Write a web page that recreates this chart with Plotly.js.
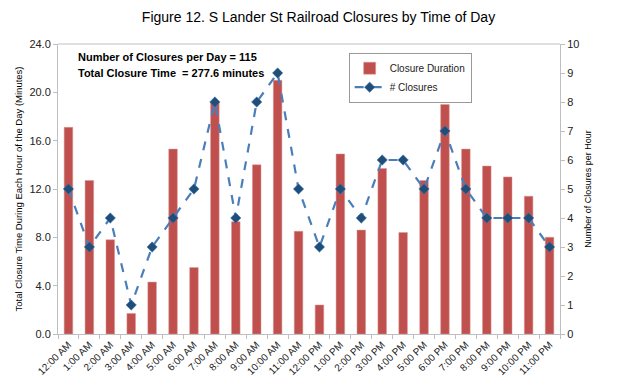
<!DOCTYPE html>
<html>
<head>
<meta charset="utf-8">
<script src="https://cdn.plot.ly/plotly-3.0.1.min.js"></script>
<style>html,body{margin:0;padding:0;background:#fff;}#chart{width:637px;height:378px;}</style>
</head>
<body>
<div id="chart"></div>
<script>
const hours = ["12:00 AM","1:00 AM","2:00 AM","3:00 AM","4:00 AM","5:00 AM","6:00 AM","7:00 AM","8:00 AM","9:00 AM","10:00 AM","11:00 AM","12:00 PM","1:00 PM","2:00 PM","3:00 PM","4:00 PM","5:00 PM","6:00 PM","7:00 PM","8:00 PM","9:00 PM","10:00 PM","11:00 PM"];
const closureDuration = [17.1,12.7,7.8,1.7,4.3,15.3,5.5,19.2,9.3,14.0,21.0,8.5,2.4,14.9,8.6,13.7,8.4,12.7,19.0,15.3,13.9,13.0,11.4,8.0];
const closureCount = [5,3,4,1,3,4,5,8,4,8,9,5,3,5,4,6,6,5,7,5,4,4,4,3];
const leftTicks = [0,4,8,12,16,20,24];
const rightTicks = [0,1,2,3,4,5,6,7,8,9,10];

const font = "Liberation Sans, Arial, sans-serif";
const axisColor = "#bfbfbf";

const traces = [
  {
    type: "bar", x: hours, y: closureDuration, name: "Closure Duration",
    marker: {color: "#c0504d", line: {color: "#d99694", width: 0.5}},
    width: 0.41, yaxis: "y"
  },
  {
    type: "scatter", mode: "lines+markers", x: hours, y: closureCount, name: "# Closures",
    line: {color: "#4a7ebb", width: 2.2, dash: "dash"},
    marker: {symbol: "diamond", size: 8, color: "#1f4e79", line: {color: "#4a7ebb", width: 0.5}},
    yaxis: "y2"
  }
];

const layout = {
  width: 637, height: 378,
  margin: {l: 58, r: 77, t: 44, b: 44},
  paper_bgcolor: "#fff", plot_bgcolor: "#fff",
  title: {text: "Figure 12. S Lander St Railroad Closures by Time of Day", font: {family: font, size: 14, color: "#000"}, x: 0.5, xanchor: "center", y: 0.955, yanchor: "middle"},
  showlegend: true,
  legend: {x: 0.579, y: 0.97, xanchor: "left", yanchor: "top", bordercolor: "#999", borderwidth: 1, bgcolor: "#fff", font: {family: font, size: 10, color: "#222"}, tracegroupgap: 0, itemwidth: 30},
  xaxis: {
    type: "category", range: [-0.5, hours.length - 0.5], tickangle: -45, tickfont: {family: font, size: 10, color: "#222"},
    showline: true, linecolor: axisColor, linewidth: 1, mirror: false,
    ticks: "outside", tickson: "boundaries", ticklen: 4, tickcolor: axisColor,
    showgrid: false, zeroline: false
  },
  yaxis: {
    range: [0, 24], tickvals: leftTicks, tickformat: ".1f",
    tickfont: {family: font, size: 11, color: "#222"},
    showline: true, linecolor: axisColor, ticks: "outside", ticklen: 4, tickcolor: axisColor,
    showgrid: false, zeroline: false,
    title: {text: "Total Closure Time During Each Hour of the Day (Minutes)", font: {family: font, size: 9.5, color: "#000"}, standoff: 5}
  },
  yaxis2: {
    range: [0, 10], tickvals: rightTicks, overlaying: "y", side: "right",
    tickfont: {family: font, size: 11, color: "#222"},
    showline: true, linecolor: axisColor, ticks: "outside", ticklen: 4, tickcolor: axisColor,
    showgrid: false, zeroline: false,
    title: {text: "Number of Closures per Hour", font: {family: font, size: 9, color: "#000"}, standoff: 6}
  },
  shapes: [
    {type: "line", xref: "paper", yref: "paper", x0: 0, x1: 1, y0: 1, y1: 1, line: {color: axisColor, width: 1}}
  ],
  annotations: [
    {xref: "paper", yref: "paper", x: 0.036, y: 0.955, xanchor: "left", yanchor: "middle", showarrow: false,
     text: "<b>Number of Closures per Day = 115</b>", font: {family: font, size: 11, color: "#000"}},
    {xref: "paper", yref: "paper", x: 0.036, y: 0.9, xanchor: "left", yanchor: "middle", showarrow: false,
     text: "<b>Total Closure Time  = 277.6 minutes</b>", font: {family: font, size: 11, color: "#000"}}
  ]
};

Plotly.newPlot("chart", traces, layout, {displayModeBar: false, staticPlot: true});
</script>
</body>
</html>
